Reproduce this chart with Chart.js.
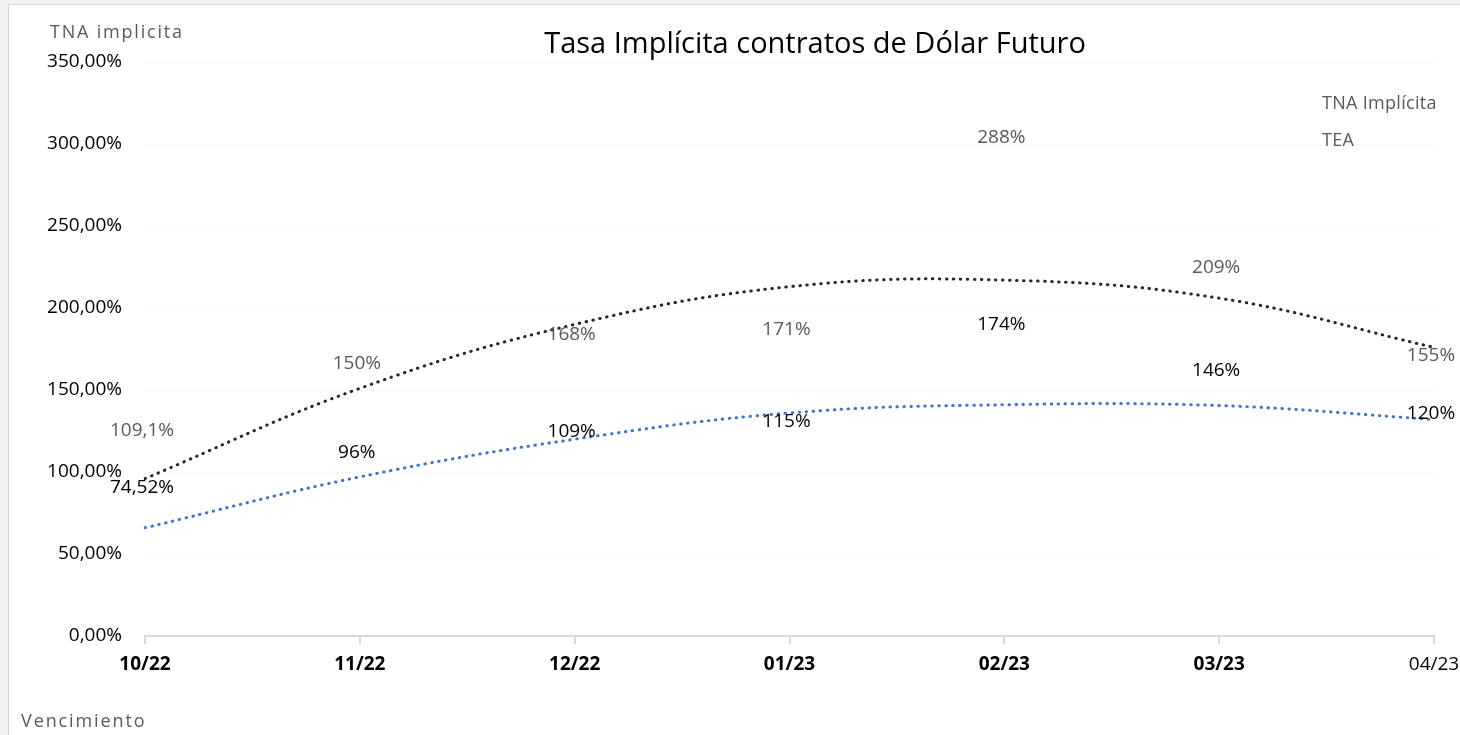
<!DOCTYPE html>
<html>
<head>
<meta charset="utf-8">
<script src="https://cdn.jsdelivr.net/npm/chart.js@4"></script>
<style>
  html, body { margin: 0; padding: 0; width: 1460px; height: 735px; overflow: hidden; background: #f2f2f2; }
  #frame { position: absolute; left: 8px; top: 4px; width: 1470px; height: 740px; background: #fff; border: 1px solid #d4d4d4; overflow: hidden; }
  #c { position: absolute; left: 0; top: 0; }
</style>
</head>
<body>
<div id="frame"><canvas id="c" width="1462" height="731"></canvas></div>
<script>
// ---- data ----
const categories = ['10/22', '11/22', '12/22', '01/23', '02/23', '03/23', '04/23'];
const teaValues = [109.1, 150, 168, 171, 288, 209, 155];
const tnaValues = [74.52, 96, 109, 115, 174, 146, 120];
// trend lines
const teaTrend = [96, 151, 190, 213, 217, 206, 176];
const tnaTrend = [66, 97, 120, 136, 141, 140.5, 132];
const yTicks = [0, 50, 100, 150, 200, 250, 300, 350];
const seriesNames = ['TNA Implícita', 'TEA'];

const FONT = "'Open Sans', 'Noto Sans', sans-serif";
const fmtVal = v => String(v).replace('.', ',') + '%';

const textPlugin = {
  id: 'texts',
  afterDatasetsDraw(chart) {
    const ctx = chart.ctx;
    ctx.save();
    // data labels
    chart.data.datasets.forEach((ds, i) => {
      if (!ds.isLabels) return;
      const meta = chart.getDatasetMeta(i);
      ctx.fillStyle = ds.labelColor;
      ctx.font = '19px ' + FONT;
      ctx.textAlign = 'center';
      ctx.textBaseline = 'middle';
      meta.data.forEach((pt, j) => {
        ctx.fillText(fmtVal(ds.data[j]), pt.x - 3, pt.y - 26);
      });
    });
    // title
    ctx.fillStyle = '#000';
    ctx.font = '29px ' + FONT;
    ctx.textAlign = 'center';
    ctx.textBaseline = 'middle';
    ctx.fillText('Tasa Implícita contratos de Dólar Futuro', 806, 40);
    // axis titles
    ctx.fillStyle = '#595959';
    ctx.font = '18px ' + FONT;
    ctx.textAlign = 'left';
    ctx.letterSpacing = '1.8px';
    ctx.fillText('TNA implicita', 41, 28);
    ctx.letterSpacing = '1.9px';
    ctx.fillText('Vencimiento', 12, 717);
    // legend
    ctx.letterSpacing = '0.3px';
    ctx.font = '18px ' + FONT;
    ctx.fillText(seriesNames[0], 1313, 99);
    ctx.fillText(seriesNames[1], 1313, 136);
    ctx.restore();
  }
};

const dotted = [0.5, 6.5];

new Chart(document.getElementById('c'), {
  type: 'line',
  data: {
    labels: categories,
    datasets: [
      { label: seriesNames[1] + ' tendencia', data: teaTrend, borderColor: '#262626', borderWidth: 3,
        borderDash: dotted, borderCapStyle: 'round', pointRadius: 0, tension: 0.4, fill: false },
      { label: seriesNames[0] + ' tendencia', data: tnaTrend, borderColor: '#4472c4', borderWidth: 3,
        borderDash: dotted, borderCapStyle: 'round', pointRadius: 0, tension: 0.4, fill: false },
      { label: seriesNames[1], data: teaValues, showLine: false, pointRadius: 0, isLabels: true, labelColor: '#595959' },
      { label: seriesNames[0], data: tnaValues, showLine: false, pointRadius: 0, isLabels: true, labelColor: '#000000' }
    ]
  },
  options: {
    responsive: false,
    animation: false,
    events: [],
    layout: { padding: { left: 0, top: 57, right: 37, bottom: 49 } },
    plugins: { legend: { display: false }, tooltip: { enabled: false }, title: { display: false } },
    scales: {
      x: {
        offset: false,
        grid: { drawOnChartArea: false, color: '#d9d9d9', lineWidth: 2, tickLength: 8 },
        border: { display: true, color: '#d9d9d9', width: 2 },
        ticks: {
          color: '#000', padding: 9, maxRotation: 0, autoSkip: false,
          font: c => ({ family: FONT, size: 19, weight: c.index === categories.length - 1 ? 'normal' : 'bold' })
        },
        afterFit: s => { s.height = 51; }
      },
      y: {
        min: 0, max: 350,
        afterBuildTicks: s => { s.ticks = yTicks.map(v => ({ value: v })); },
        grid: { color: '#e6e6e6', lineWidth: 1, drawTicks: false },
        border: { display: false, dash: [1, 3] },
        ticks: {
          color: '#000', padding: 23,
          font: { family: FONT, size: 19 },
          callback: v => v.toFixed(2).replace('.', ',') + '%'
        },
        afterFit: s => { s.width = 136; }
      }
    }
  },
  plugins: [textPlugin]
});
</script>
</body>
</html>
